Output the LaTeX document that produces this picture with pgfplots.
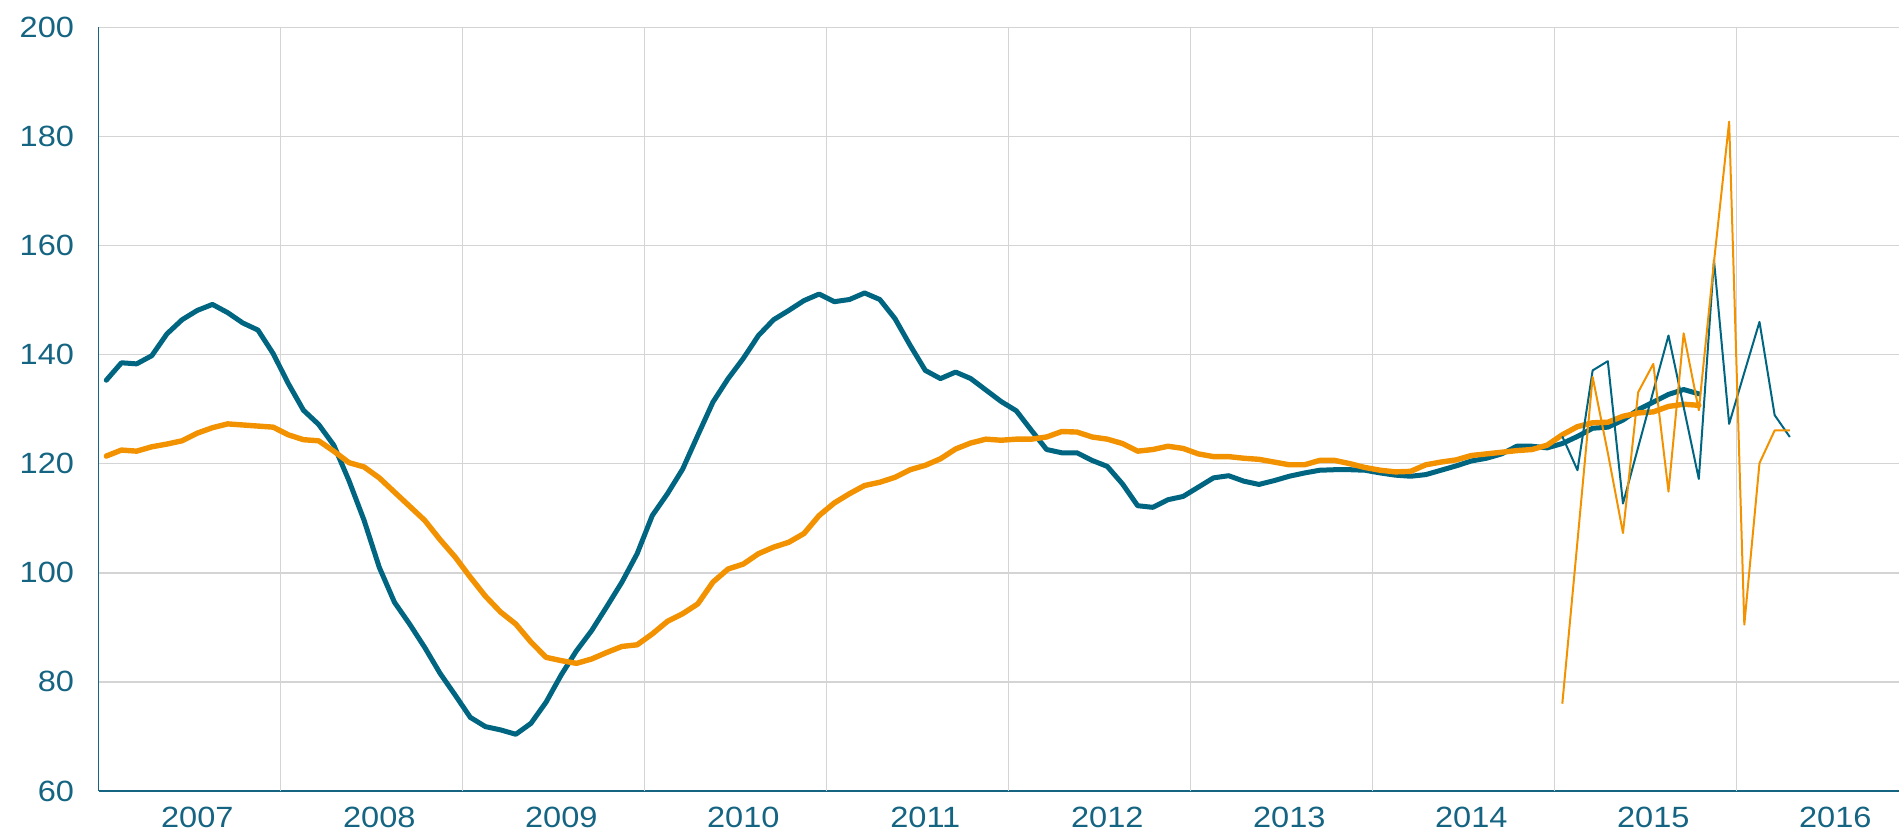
\documentclass[border=0pt]{standalone}
\usepackage{fontspec}
\setmainfont{Liberation Sans}[FakeStretch=1.11]
\usepackage{pgfplots}
\pgfplotsset{compat=1.18}
\usepackage{pgfplotstable}

\definecolor{tealline}{RGB}{0,101,128}
\definecolor{orangeline}{RGB}{242,146,0}
\definecolor{labelcol}{RGB}{20,100,130}
\definecolor{gridcol}{RGB}{212,212,212}

\pgfplotstableread{
x y
0 135.3
1 138.5
2 138.3
3 139.8
4 143.8
5 146.4
6 148.1
7 149.2
8 147.7
9 145.8
10 144.5
11 140.2
12 134.7
13 129.8
14 127.2
15 123.4
16 116.9
17 109.6
18 101.0
19 94.6
20 90.6
21 86.3
22 81.6
23 77.6
24 73.5
25 71.8
26 71.2
27 70.4
28 72.4
29 76.3
30 81.3
31 85.7
32 89.4
33 93.8
34 98.3
35 103.5
36 110.5
37 114.5
38 119.0
39 125.2
40 131.3
41 135.6
42 139.3
43 143.5
44 146.4
45 148.1
46 149.9
47 151.1
48 149.7
49 150.1
50 151.3
51 150.1
52 146.6
53 141.7
54 137.1
55 135.6
56 136.8
57 135.6
58 133.5
59 131.4
60 129.7
61 126.1
62 122.6
63 122.0
64 122.0
65 120.6
66 119.5
67 116.3
68 112.3
69 112.0
70 113.4
71 114.0
72 115.7
73 117.4
74 117.8
75 116.8
76 116.2
77 116.9
78 117.7
79 118.3
80 118.8
81 118.9
82 118.9
83 118.8
84 118.3
85 117.9
86 117.7
87 118.0
88 118.8
89 119.6
90 120.5
91 121.0
92 121.8
93 123.2
94 123.2
95 122.9
96 123.7
97 125.0
98 126.5
99 126.7
100 128.0
101 129.9
102 131.3
103 132.7
104 133.6
105 132.8
}\tealthick

\pgfplotstableread{
x y
0 121.4
1 122.5
2 122.3
3 123.1
4 123.6
5 124.2
6 125.6
7 126.6
8 127.3
9 127.1
10 126.9
11 126.7
12 125.3
13 124.4
14 124.2
15 122.3
16 120.2
17 119.4
18 117.4
19 114.8
20 112.2
21 109.6
22 106.1
23 102.9
24 99.2
25 95.7
26 92.8
27 90.6
28 87.3
29 84.5
30 83.9
31 83.4
32 84.2
33 85.4
34 86.5
35 86.8
36 88.8
37 91.1
38 92.5
39 94.3
40 98.3
41 100.7
42 101.6
43 103.5
44 104.7
45 105.6
46 107.2
47 110.5
48 112.8
49 114.5
50 116.0
51 116.6
52 117.5
53 118.9
54 119.7
55 120.9
56 122.7
57 123.8
58 124.5
59 124.3
60 124.5
61 124.5
62 124.9
63 125.9
64 125.8
65 124.9
66 124.5
67 123.7
68 122.3
69 122.6
70 123.2
71 122.8
72 121.8
73 121.3
74 121.3
75 121.0
76 120.8
77 120.3
78 119.8
79 119.8
80 120.6
81 120.6
82 120.0
83 119.3
84 118.8
85 118.5
86 118.6
87 119.8
88 120.3
89 120.7
90 121.5
91 121.8
92 122.1
93 122.4
94 122.6
95 123.4
96 125.3
97 126.8
98 127.5
99 127.6
100 128.7
101 129.3
102 129.5
103 130.5
104 130.9
105 130.7
}\orangethick

\pgfplotstableread{
x y
96 125.0
97 118.8
98 137.1
99 138.8
100 112.7
101 123.0
102 133.3
103 143.5
104 130.4
105 117.2
106 157.3
107 127.3
108 136.7
109 146.0
110 128.9
111 124.9
}\tealthin

\pgfplotstableread{
x y
96 76.0
97 105.8
98 135.9
99 122.0
100 107.3
101 133.1
102 138.3
103 114.9
104 143.9
105 129.8
106 157.0
107 182.7
108 90.5
109 120.1
110 126.1
111 126.1
}\orangethin

\begin{document}
\begin{tikzpicture}
\begin{axis}[
  scale only axis,
  width=900.15pt, height=381.85pt,
  at={(0,0)}, anchor=south west,
  xmin=-0.5, xmax=118.2, ymin=60, ymax=200,
  axis x line*=bottom, axis y line*=left,
  axis line style={labelcol, line width=0.8pt, -},
  ytick={60,80,...,200},
  ymajorgrids,
  major grid style={gridcol, line width=0.7pt},
  xtick={6,18,30,42,54,66,78,90,102,114},
  xticklabels={2007,2008,2009,2010,2011,2012,2013,2014,2015,2016},
  extra x ticks={11.5,23.5,35.5,47.5,59.5,71.5,83.5,95.5,107.5},
  extra x tick labels={},
  extra x tick style={grid=major, major tick length=0pt},
  major tick length=0pt,
  tick label style={font=\fontsize{14.65}{17}\selectfont, text=labelcol},
  /pgf/number format/assume math mode=true,
  yticklabel style={xshift=-8.85pt},
  xticklabel style={yshift=-4.27pt},
  no markers,
]
\addplot[tealline, line width=2.5pt, line join=round, line cap=round] table {\tealthick};
\addplot[orangeline, line width=2.7pt, line join=round, line cap=round] table {\orangethick};
\addplot[tealline, line width=1pt, line join=round] table {\tealthin};
\addplot[orangeline, line width=1pt, line join=round] table {\orangethin};
\end{axis}
\pgfresetboundingbox
\path[use as bounding box] (-49.35pt,-22.5pt) rectangle (900.15pt,395.5pt);
\end{tikzpicture}
\end{document}
